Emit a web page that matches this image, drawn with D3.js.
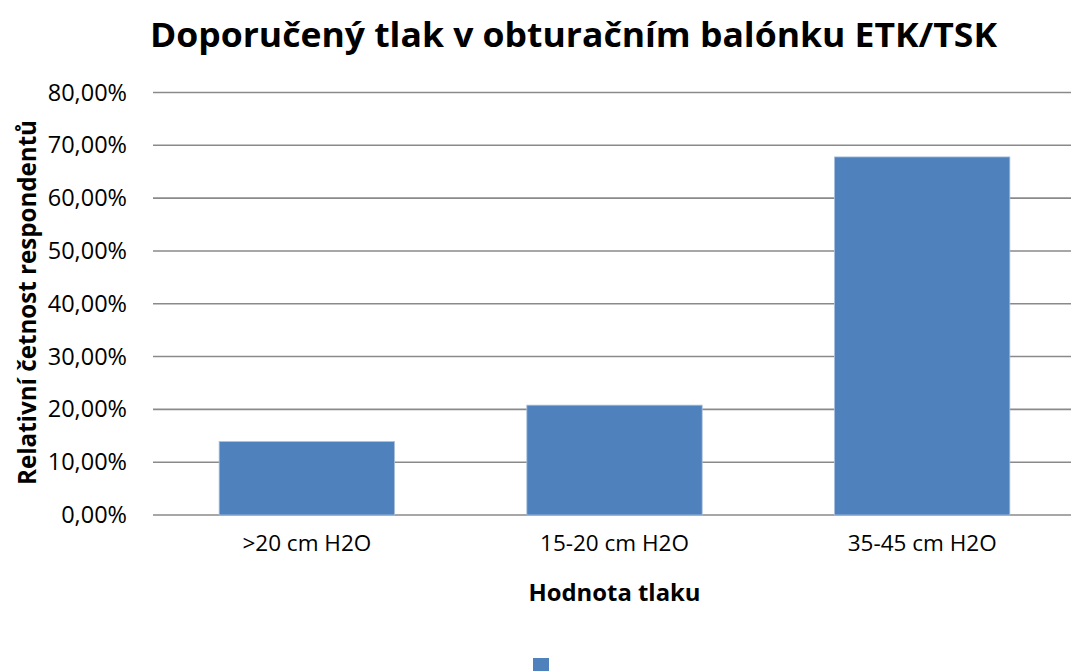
<!DOCTYPE html>
<html>
<head>
<meta charset="utf-8">
<script src="https://cdn.jsdelivr.net/npm/d3@7"></script>
<style>
  body { margin: 0; background: #fff; }
  text { font-family: "Open Sans", sans-serif; fill: #000; }
</style>
</head>
<body>
<svg id="chart"></svg>
<script>
// Doporučený tlak - bar chart
const categories = [">20 cm H2O", "15-20 cm H2O", "35-45 cm H2O"];
const values = [0.139, 0.208, 0.678];
const yTicks = [0, 0.1, 0.2, 0.3, 0.4, 0.5, 0.6, 0.7, 0.8];

const width = 1071;
const height = 671;
const plot = { left: 153, right: 1076, top: 92.5, bottom: 515 };

const svg = d3.select("#chart")
    .attr("width", width)
    .attr("height", height);

const x = d3.scaleBand()
    .domain(categories)
    .range([plot.left, plot.right])
    .paddingInner(0.43)
    .paddingOuter(0.215);

const y = d3.scaleLinear()
    .domain([0, 0.8])
    .range([plot.bottom, plot.top]);

const fmt = d => d3.format(".2f")(d * 100).replace(".", ",") + "%";

// gridlines
svg.append("g")
    .selectAll("line")
    .data(yTicks)
    .join("line")
    .attr("x1", plot.left)
    .attr("x2", width)
    .attr("y1", d => y(d))
    .attr("y2", d => y(d))
    .attr("stroke", "#8a8a8a")
    .attr("stroke-width", 1.6);

// y axis labels
const yAxis = svg.append("g")
    .attr("transform", `translate(${plot.left},0)`)
    .call(d3.axisLeft(y).tickValues(yTicks).tickFormat(fmt).tickSize(0).tickPadding(26));
yAxis.select(".domain").remove();
yAxis.selectAll("text")
    .style("font-family", "'Open Sans', sans-serif")
    .style("font-size", "23.5px")
    .attr("fill", "#000");

// bars
svg.append("g")
    .selectAll("rect")
    .data(values)
    .join("rect")
    .attr("x", (d, i) => x(categories[i]))
    .attr("width", x.bandwidth())
    .attr("y", d => y(d))
    .attr("height", d => y(0) - y(d))
    .attr("fill", "#4f81bd")
    .attr("stroke", "#a9c0de")
    .attr("stroke-width", 0.8);

// x axis labels
const xAxis = svg.append("g")
    .attr("transform", `translate(0,${plot.bottom})`)
    .call(d3.axisBottom(x).tickSize(0).tickPadding(20));
xAxis.select(".domain").remove();
xAxis.selectAll("text")
    .style("font-family", "'Open Sans', sans-serif")
    .style("font-size", "22.5px")
    .attr("fill", "#000");

// title
svg.append("text")
    .attr("x", 573.5)
    .attr("y", 47)
    .attr("text-anchor", "middle")
    .attr("textLength", 847)
    .attr("lengthAdjust", "spacingAndGlyphs")
    .style("font-size", "34px")
    .style("font-weight", "bold")
    .text("Doporučený tlak v obturačním balónku ETK/TSK");

// axis titles
svg.append("text")
    .attr("x", 614.5)
    .attr("y", 601)
    .attr("text-anchor", "middle")
    .attr("textLength", 172)
    .attr("lengthAdjust", "spacingAndGlyphs")
    .style("font-size", "24px")
    .style("font-weight", "bold")
    .text("Hodnota tlaku");

svg.append("text")
    .attr("transform", "translate(36,302.5) rotate(-90)")
    .attr("text-anchor", "middle")
    .attr("textLength", 365)
    .attr("lengthAdjust", "spacingAndGlyphs")
    .style("font-size", "25px")
    .style("font-weight", "bold")
    .text("Relativní četnost respondentů");

// legend marker (legend text is empty)
svg.append("rect")
    .attr("x", 533)
    .attr("y", 658)
    .attr("width", 16)
    .attr("height", 16)
    .attr("fill", "#4f81bd");
</script>
</body>
</html>
